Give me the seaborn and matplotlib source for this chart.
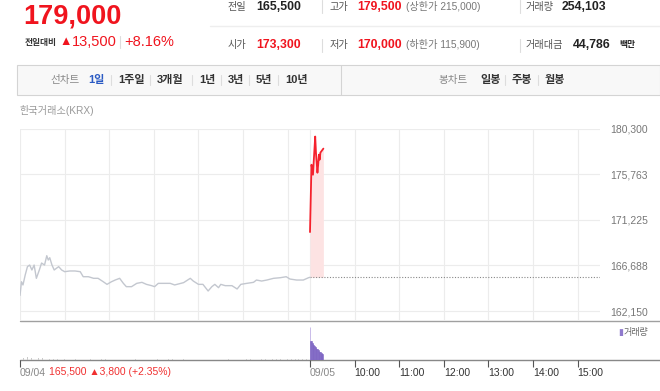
import matplotlib
matplotlib.use("Agg")
import matplotlib.pyplot as plt
import seaborn as sns
import pandas as pd

# ---------------- data ----------------
prev_minutes = [0, 2, 4, 7, 10, 13, 16, 19, 22, 26, 29, 33, 36, 38, 40, 43, 46, 49, 52, 56,
                60, 67, 74, 81, 85, 92, 99, 105, 112, 117, 123, 128, 134, 139, 143, 150, 157,
                164, 170, 177, 181, 186, 193, 202, 208, 220, 229, 233, 240, 246, 253, 258, 262,
                267, 270, 276, 285, 292, 297, 305, 314, 318, 325, 332, 341, 350, 358, 363, 372,
                381, 388, 390]
prev_prices = [163700, 165060, 164740, 165730, 166560, 166720, 166230, 166720, 165400, 166230,
               166920, 166720, 167650, 167220, 167450, 166720, 166230, 166400, 166560, 166230,
               166060, 166130, 166130, 166060, 165560, 165560, 165400, 165400, 165060, 164800,
               165060, 165230, 165400, 164900, 164570, 164570, 164900, 165000, 164800, 164670,
               164570, 164900, 164900, 164900, 164740, 164970, 165400, 165130, 164800, 164800,
               164140, 164570, 164800, 164470, 164800, 164670, 164670, 164340, 164800, 164900,
               165000, 165230, 165130, 165230, 165400, 165460, 165560, 165330, 165230, 165230,
               165460, 165500]
today_minutes = [0, 2, 4, 5, 7, 8, 10, 11, 12, 13, 14, 17, 18]
today_prices = [170000, 176700, 175700, 177000, 179500, 177900, 175900, 176700, 177700,
                177200, 177900, 178200, 178300]
prev_close = 165500

today_vol_minutes = list(range(18))
today_volumes = [35000, 20500, 20000, 18000, 17000, 16000, 14500, 14000, 13000, 12000,
                 11500, 10500, 10000, 8500, 8000, 7500, 6500, 6000]
prev_vol_minutes = list(range(0, 390, 5))
prev_volumes = [2600, 2200, 2800, 1900, 2400, 1700, 2100, 1500, 1300, 1200,
                800, 600, 700, 500, 900, 600, 400, 500, 700, 600,
                500, 400, 600, 800, 500, 400, 300, 500, 600, 400,
                500, 700, 600, 400, 500, 300, 400, 600, 500, 400,
                700, 600, 500, 800, 600, 400, 500, 300, 400, 500,
                600, 400, 500, 700, 500, 400, 600, 500, 400, 300,
                500, 600, 700, 500, 400, 600, 800, 700, 600, 900,
                700, 800, 600, 900, 1000, 800, 1200, 1500]

y_ticks = [162150, 166688, 171225, 175763, 180300]
x_tick_labels = ["09/04", "09/05", "10:00", "11:00", "12:00", "13:00", "14:00", "15:00"]
tab_line = ["1일", "1주일", "3개월", "1년", "3년", "5년", "10년"]
tab_candle = ["일봉", "주봉", "월봉"]

SESSION = 390  # minutes per session (09:00-15:30)

# ---------------- style ----------------
sns.set_theme(style="white")
plt.rcParams["font.family"] = ["Liberation Sans", "Noto Sans CJK KR", "DejaVu Sans"]
plt.rcParams["axes.unicode_minus"] = False

W, H = 660, 391
fig = plt.figure(figsize=(W / 100, H / 100), dpi=100)

ov = fig.add_axes([0, 0, 1, 1])
ov.set_xlim(0, W)
ov.set_ylim(H, 0)
ov.axis("off")
ov.patch.set_alpha(0)

RED = "#f0141e"
DARK = "#222222"
GRAY = "#777777"

def t(x, y, s, **kw):
    kw.setdefault("va", "center")
    kw.setdefault("ha", "left")
    ov.text(x, y, s, **kw)

# header left
t(23, 17, "179,000", fontsize=19.5, fontweight="bold", color=RED)
t(25, 42, "전일대비", fontsize=6.3, fontweight="bold", color="#333333")
t(59, 42, "▲", fontsize=9, color=RED)
t(72, 42, "13,500", fontsize=10.5, color=RED)
ov.plot([120, 120], [36, 48], color="#dddddd", lw=0.8)
t(124, 42, "+8.16%", fontsize=10.5, color=RED)

# header right
ov.plot([210, 660], [26, 26], color="#eeeeee", lw=1)
for xs in (322, 520):
    ov.plot([xs, xs], [0, 13], color="#dddddd", lw=0.8)
    ov.plot([xs, xs], [39, 52], color="#dddddd", lw=0.8)
row1, row2 = 7, 45
t(228, row1, "전일", fontsize=7.3, color="#555555")
t(256, row1, "165,500", fontsize=8.8, fontweight="bold", color=DARK)
t(330, row1, "고가", fontsize=7.3, color="#555555")
t(357, row1, "179,500", fontsize=8.8, fontweight="bold", color=RED)
t(406, row1, "(상한가 215,000)", fontsize=7.3, color=GRAY)
t(526, row1, "거래량", fontsize=7.3, color="#555555")
t(562, row1, "254,103", fontsize=8.8, fontweight="bold", color=DARK)
t(228, row2, "시가", fontsize=7.3, color="#555555")
t(256, row2, "173,300", fontsize=8.8, fontweight="bold", color=RED)
t(330, row2, "저가", fontsize=7.3, color="#555555")
t(357, row2, "170,000", fontsize=8.8, fontweight="bold", color=RED)
t(406, row2, "(하한가 115,900)", fontsize=7.3, color=GRAY)
t(526, row2, "거래대금", fontsize=7.3, color="#555555")
t(573, row2, "44,786", fontsize=8.8, fontweight="bold", color=DARK)
t(619, row2, "백만", fontsize=6.3, fontweight="bold", color=DARK)

# tab bar
ov.add_patch(plt.Rectangle((17, 65), 643, 30, facecolor="#f8f8f8", edgecolor="#d4d4d4", lw=0.8))
ov.plot([341, 341], [65, 95], color="#d4d4d4", lw=0.8)
ty = 80
t(50, ty, "선차트", fontsize=7.6, color="#888888")
tab_x = [88, 118, 157, 199, 228, 256, 285]
for i, (lab, xx) in enumerate(zip(tab_line, tab_x)):
    t(xx, ty, lab, fontsize=8, fontweight="bold",
      color="#2b5bc4" if i == 0 else "#333333")
    if i > 0:
        ov.plot([xx - 7, xx - 7], [75, 85], color="#dddddd", lw=0.8)
t(438, ty, "봉차트", fontsize=7.6, color="#888888")
for i, (lab, xx) in enumerate(zip(tab_candle, [480, 512, 545])):
    t(xx, ty, lab, fontsize=8, fontweight="bold", color="#333333")
    if i > 0:
        ov.plot([xx - 7, xx - 7], [75, 85], color="#dddddd", lw=0.8)

t(20, 110, "한국거래소(KRX)", fontsize=7.3, color="#999999")

# ---------------- price pane ----------------
left, right = 20, 600
p_top, p_bot = 128.5, 321
ax = fig.add_axes([left / W, (H - p_bot) / H, (right - left) / W, (p_bot - p_top) / H])
ax.patch.set_alpha(0)
px_per_price = (311 - 128.5) / (180300 - 162150)
ymin = 162150 - (321 - 311) / px_per_price
ax.set_ylim(ymin, 180300)
ax.set_xlim(0, 2 * SESSION)

prev_df = pd.DataFrame({"minute": prev_minutes, "price": prev_prices})
today_df = pd.DataFrame({"minute": [m + SESSION for m in today_minutes], "price": today_prices})

ax.fill_between(today_df["minute"], today_df["price"], prev_close,
                color="#fde3e3", lw=0, zorder=1)
sns.lineplot(data=prev_df, x="minute", y="price", ax=ax, color="#c3c7cf", lw=1.0, zorder=3)
sns.lineplot(data=today_df, x="minute", y="price", ax=ax, color="#f5222d", lw=1.3, zorder=4)
ax.plot([SESSION, 2 * SESSION], [prev_close, prev_close], color="#888888", lw=0.8,
        ls=(0, (1, 1.5)), zorder=2)

hours = [0, 60, 120, 180, 240, 300, 360, 390, 450, 510, 570, 630, 690, 750]
ax.set_xticks(hours)
ax.set_xticklabels([])
ax.set_yticks(y_ticks)
ax.set_yticklabels([f"{v:,}" for v in y_ticks])
ax.yaxis.tick_right()
ax.tick_params(axis="y", length=0, pad=7, labelsize=7.5, labelcolor="#777777")
ax.tick_params(axis="x", length=0)
ax.grid(True, color="#ececec", lw=0.8)
for s in ax.spines.values():
    s.set_visible(False)
ax.set_xlabel("")
ax.set_ylabel("")

# ---------------- volume pane ----------------
v_top, v_bot = 321, 360
vax = fig.add_axes([left / W, (H - v_bot) / H, (right - left) / W, (v_bot - v_top) / H])
vax.patch.set_alpha(0)
vax.set_xlim(0, 2 * SESSION)
vax.set_ylim(0, 41400)
vax.bar(prev_vol_minutes, prev_volumes, width=1.0, color="#c9c9c9", lw=0)
vol_colors = ["#a08ad8"] + ["#7f66c4"] * (len(today_volumes) - 1)
vax.bar([m + SESSION for m in today_vol_minutes], today_volumes, width=1.1,
        color=vol_colors, edgecolor=vol_colors, lw=0.4)
tick_pos = [0, 390, 450, 510, 570, 630, 690, 750]
vax.set_xticks(tick_pos)
vax.set_xticklabels(x_tick_labels)
vax.set_yticks([])
vax.tick_params(axis="x", length=5, width=0.8, color="#555555", pad=1, labelsize=7.5,
                direction="out", bottom=True)
for i, lab in enumerate(vax.get_xticklabels()):
    lab.set_horizontalalignment("left")
    lab.set_color("#888888" if i < 2 else "#333333")
for s in vax.spines.values():
    s.set_visible(False)

ov.plot([20, 660], [321, 321], color="#a0a0a0", lw=1.0)
ov.plot([20, 660], [360, 360], color="#888888", lw=1.0)

t(49, 372, "165,500 ▲3,800 (+2.35%)", fontsize=7.5, color="#f03030")
t(618, 332, "▮", fontsize=6.5, color="#8f79cc")
t(624, 332, "거래량", fontsize=6.5, color="#666666")

fig.savefig("out.png", dpi=100)
